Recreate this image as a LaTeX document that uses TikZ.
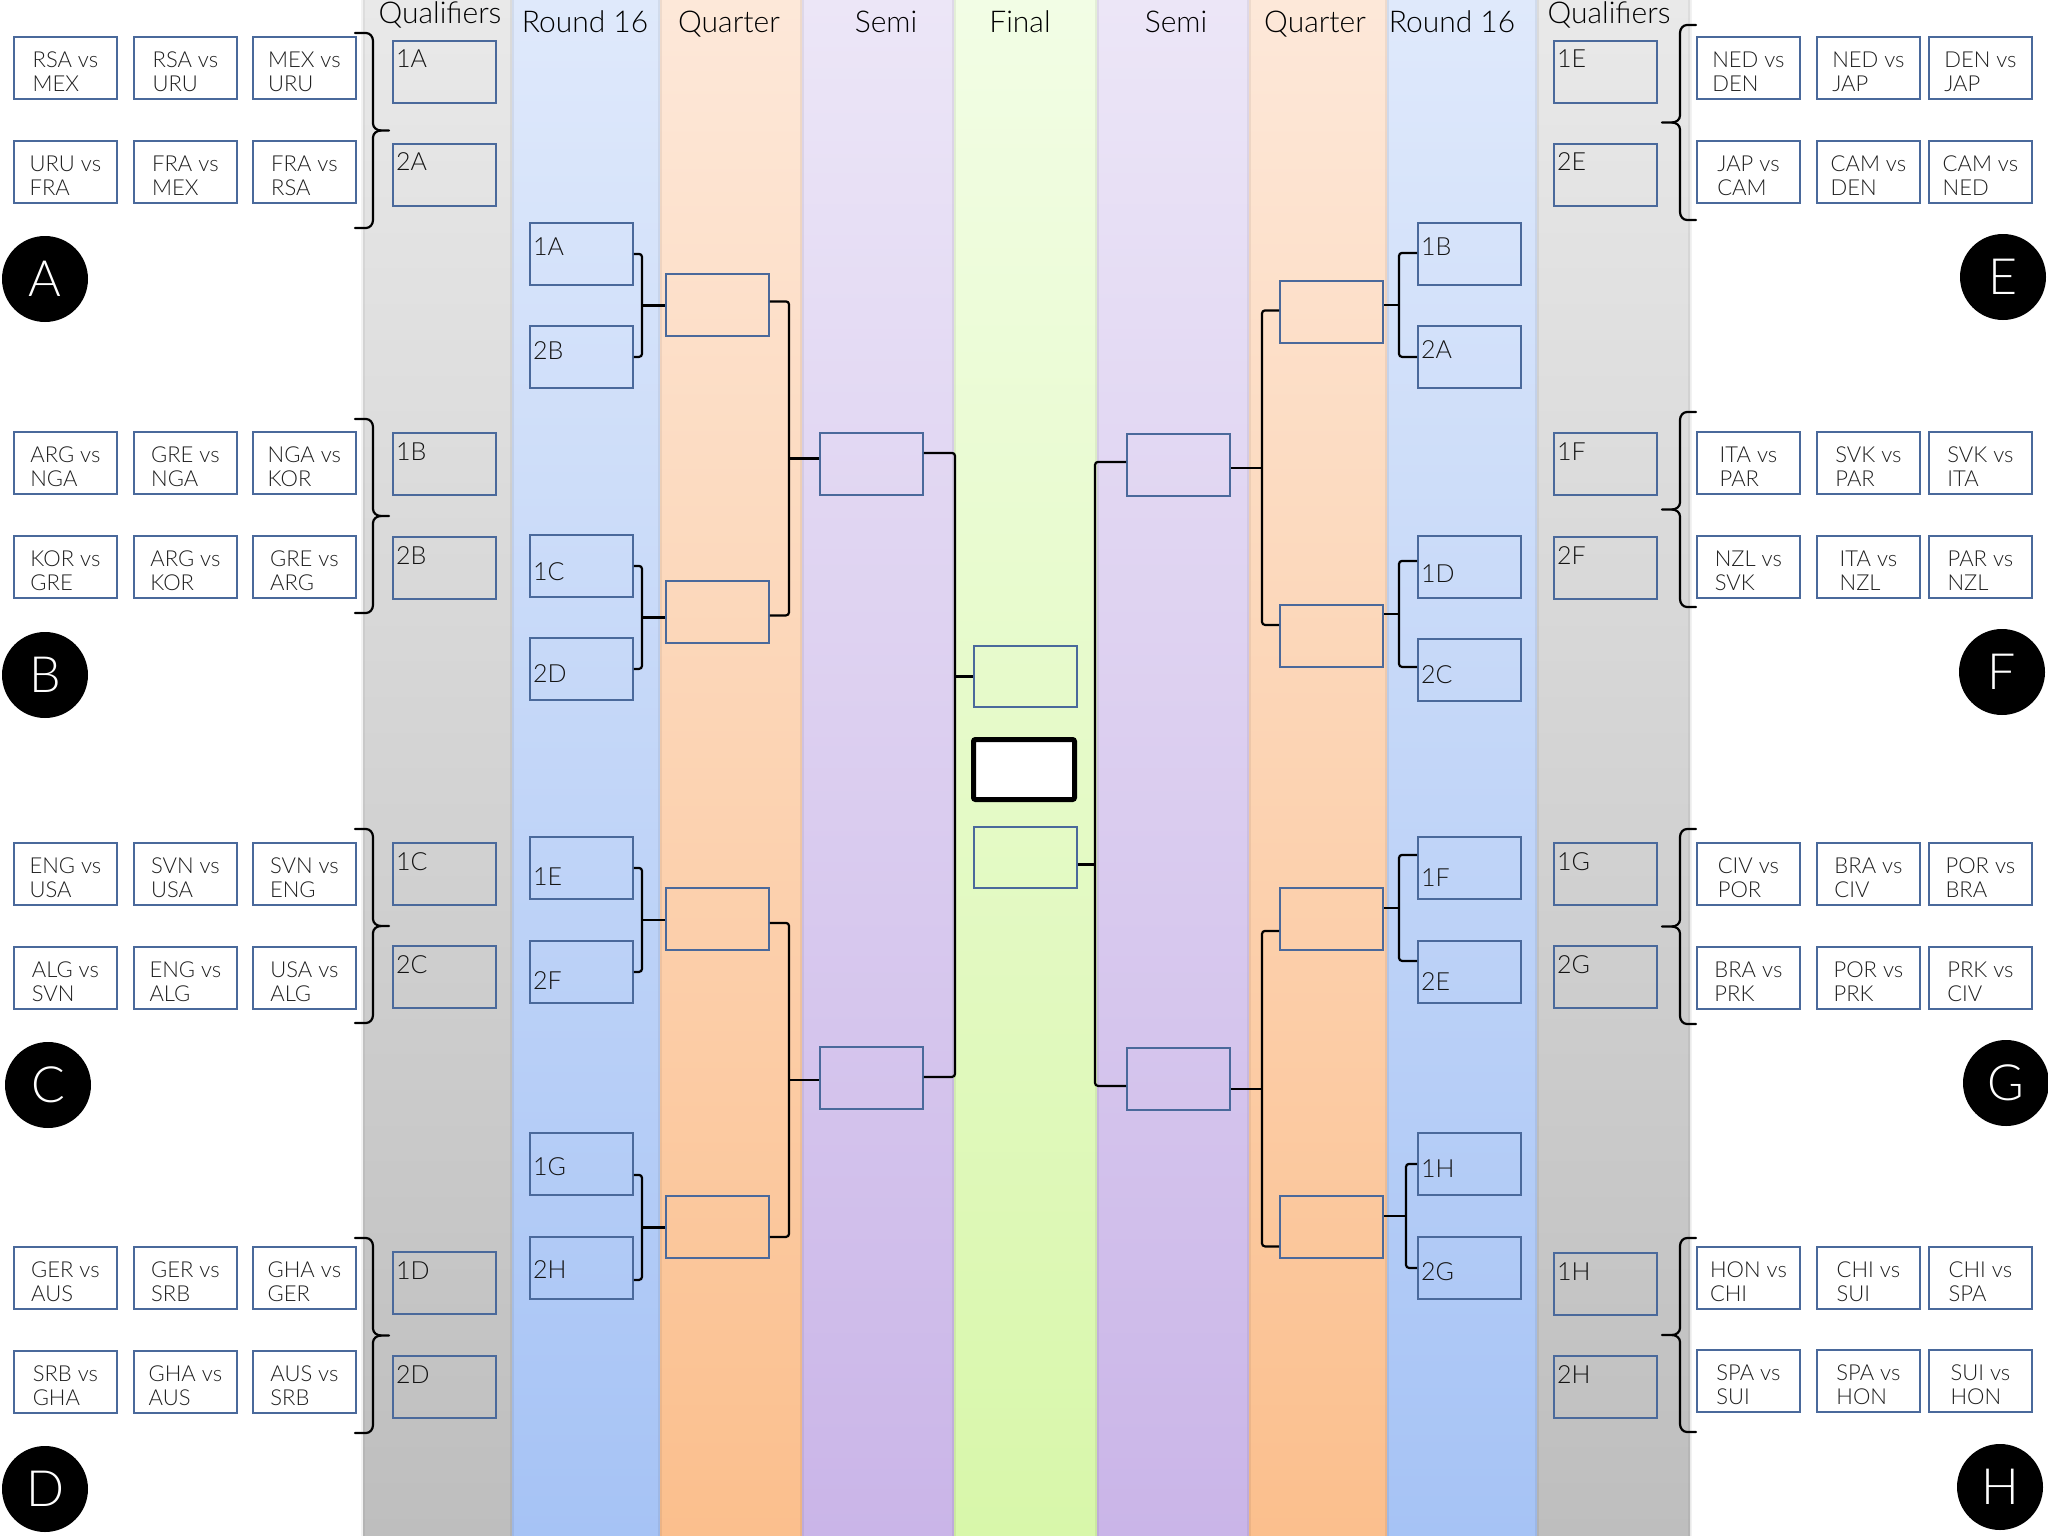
\documentclass[tikz,border=0pt]{standalone}
\usepackage{fontspec}
\setmainfont{Lato Light}
\usetikzlibrary{calc}
\definecolor{grayT}{HTML}{E9E9E9}\definecolor{grayB}{HTML}{BEBEBE}
\definecolor{blueT}{HTML}{DFE9FB}\definecolor{blueB}{HTML}{A6C3F5}
\definecolor{oraT}{HTML}{FDE8D9}\definecolor{oraB}{HTML}{FBBF8D}
\definecolor{purT}{HTML}{ECE6F7}\definecolor{purB}{HTML}{CAB5E8}
\definecolor{grnT}{HTML}{F2FDE5}\definecolor{grnB}{HTML}{D8F7AA}
\definecolor{boxc}{HTML}{4A699B}
\tikzset{
 slotbox/.style={draw=boxc, line width=1.8pt, minimum width=103pt, minimum height=62pt, inner sep=0pt, anchor=north west},
 teambox/.style={slotbox, fill=white},
 teamtxt/.style={font=\fontsize{22}{24}\selectfont, align=left, text=black!88, inner sep=0pt},
 slotlbl/.style={font=\fontsize{25}{30}\selectfont, text=black!92, inner sep=0pt, anchor=base west},
 hdr/.style={font=\fontsize{30}{36}\selectfont, text=black, inner sep=0pt, anchor=base},
 conn/.style={line width=2.2pt, rounded corners=3pt, black},
 bracestyle/.style={line width=2.2pt, black, line cap=round, line join=round},
 grpcircle/.style={circle, fill=black, minimum size=86pt, inner sep=0pt, text=white, font=\fontsize{50}{50}\selectfont},
 champ/.style={draw=black, line width=5pt, fill=white, rounded corners=2pt, minimum width=101pt, minimum height=60pt, inner sep=0pt, anchor=north west},
}
\newcommand\mkslot[5]{\node[slotbox] (#1) at (#2,#3) {};\node[slotlbl] (#1l) at ([xshift=4pt,yshift=-#5pt]#1.north west) {#4};}
\newcommand\mkteam[4]{\node[teambox] (#1) at (#2,#3) {};\node[teamtxt] (#1t) at ([yshift=-4pt]#1.center) {#4};}
\newcommand\gbraceL[2]{%
 \pgfmathsetmacro\bm{(#1+#2)/2}%
 \draw[bracestyle] (355,#1) -- (366,#1) to[out=0,in=90] (373,#1+8) -- (373,\bm-7) to[out=-90,in=180] (381,\bm) -- (389,\bm);
 \draw[bracestyle] (381,\bm) to[out=180,in=90] (373,\bm+7) -- (373,#2-8) to[out=-90,in=0] (366,#2) -- (355,#2);}
\newcommand\gbraceR[2]{%
 \pgfmathsetmacro\bm{(#1+#2)/2}%
 \draw[bracestyle] (1696,#1) -- (1687,#1) to[out=180,in=90] (1680,#1+8) -- (1680,\bm-7) to[out=-90,in=0] (1672,\bm) -- (1662,\bm);
 \draw[bracestyle] (1672,\bm) to[out=0,in=90] (1680,\bm+7) -- (1680,#2-8) to[out=-90,in=180] (1687,#2) -- (1696,#2);}
\newcommand\brkL[7]{%
 \coordinate (#7a) at ([yshift=#5pt]#1.east);
 \coordinate (#7b) at ([yshift=#6pt]#2.east);
 \coordinate (#7k) at (#4,0);
 \draw[conn] (#7a) -- (#7a -| #7k) -- (#7b -| #7k) -- (#7b);
 \coordinate (#7m) at ($(#7a -| #7k)!0.5!(#7b -| #7k)$);
 \draw[conn] (#7m) -- (#7m -| #3.west);}
\newcommand\brkR[7]{%
 \coordinate (#7a) at ([yshift=#5pt]#1.west);
 \coordinate (#7b) at ([yshift=#6pt]#2.west);
 \coordinate (#7k) at (#4,0);
 \draw[conn] (#7a) -- (#7a -| #7k) -- (#7b -| #7k) -- (#7b);
 \coordinate (#7m) at ($(#7a -| #7k)!0.5!(#7b -| #7k)$);
 \draw[conn] (#7m) -- (#7m -| #3.east);}
\begin{document}
\begin{tikzpicture}[x=1pt,y=-1pt]
\useasboundingbox (0,0) rectangle (2048,1536);
\fill[white] (0,0) rectangle (2048,1536);
% bands
\shade[top color=grayT,bottom color=grayB] (363,0) rectangle (512,1536);
\shade[top color=blueT,bottom color=blueB] (512,0) rectangle (660,1536);
\shade[top color=oraT,bottom color=oraB] (660,0) rectangle (802,1536);
\shade[top color=purT,bottom color=purB] (802,0) rectangle (954,1536);
\shade[top color=grnT,bottom color=grnB] (954,0) rectangle (1097,1536);
\shade[top color=purT,bottom color=purB] (1097,0) rectangle (1249,1536);
\shade[top color=oraT,bottom color=oraB] (1249,0) rectangle (1387,1536);
\shade[top color=blueT,bottom color=blueB] (1387,0) rectangle (1537,1536);
\shade[top color=grayT,bottom color=grayB] (1537,0) rectangle (1690,1536);
\foreach \x in {512,660,802,954,1097,1249,1387,1537}
  \fill[black,opacity=0.06] (\x-2,0) rectangle (\x+2,1536);
\fill[black,opacity=0.05] (361,0) rectangle (365,1536);
\fill[black,opacity=0.05] (1688,0) rectangle (1692,1536);
% headers
\node[hdr] (hQL) at (440,24) {Qualifiers};
\node[hdr] (hRL) at (585,33) {Round 16};
\node[hdr] (hQuL) at (729,33) {Quarter};
\node[hdr] (hSL) at (886,33) {Semi};
\node[hdr] (hF) at (1020,33) {Final};
\node[hdr] (hSR) at (1176,33) {Semi};
\node[hdr] (hQuR) at (1315,33) {Quarter};
\node[hdr] (hRR) at (1452,33) {Round 16};
\node[hdr] (hQR) at (1609,24) {Qualifiers};
% left groups
\mkteam{A1}{13}{36}{RSA vs\\MEX}\mkteam{A2}{133}{36}{RSA vs\\URU}\mkteam{A3}{252}{36}{MEX vs\\URU}
\mkteam{A4}{13}{140}{URU vs\\FRA}\mkteam{A5}{133}{140}{FRA vs\\MEX}\mkteam{A6}{252}{140}{FRA vs\\RSA}
\mkteam{B1}{13}{431}{ARG vs\\NGA}\mkteam{B2}{133}{431}{GRE vs\\NGA}\mkteam{B3}{252}{431}{NGA vs\\KOR}
\mkteam{B4}{13}{535}{KOR vs\\GRE}\mkteam{B5}{133}{535}{ARG vs\\KOR}\mkteam{B6}{252}{535}{GRE vs\\ARG}
\mkteam{C1}{13}{842}{ENG vs\\USA}\mkteam{C2}{133}{842}{SVN vs\\USA}\mkteam{C3}{252}{842}{SVN vs\\ENG}
\mkteam{C4}{13}{946}{ALG vs\\SVN}\mkteam{C5}{133}{946}{ENG vs\\ALG}\mkteam{C6}{252}{946}{USA vs\\ALG}
\mkteam{D1}{13}{1246}{GER vs\\AUS}\mkteam{D2}{133}{1246}{GER vs\\SRB}\mkteam{D3}{252}{1246}{GHA vs\\GER}
\mkteam{D4}{13}{1350}{SRB vs\\GHA}\mkteam{D5}{133}{1350}{GHA vs\\AUS}\mkteam{D6}{252}{1350}{AUS vs\\SRB}
% right groups
\mkteam{E1}{1696}{36}{NED vs\\DEN}\mkteam{E2}{1816}{36}{NED vs\\JAP}\mkteam{E3}{1928}{36}{DEN vs\\JAP}
\mkteam{E4}{1696}{140}{JAP vs\\CAM}\mkteam{E5}{1816}{140}{CAM vs\\DEN}\mkteam{E6}{1928}{140}{CAM vs\\NED}
\mkteam{F1}{1696}{431}{ITA vs\\PAR}\mkteam{F2}{1816}{431}{SVK vs\\PAR}\mkteam{F3}{1928}{431}{SVK vs\\ITA}
\mkteam{F4}{1696}{535}{NZL vs\\SVK}\mkteam{F5}{1816}{535}{ITA vs\\NZL}\mkteam{F6}{1928}{535}{PAR vs\\NZL}
\mkteam{G1}{1696}{842}{CIV vs\\POR}\mkteam{G2}{1816}{842}{BRA vs\\CIV}\mkteam{G3}{1928}{842}{POR vs\\BRA}
\mkteam{G4}{1696}{946}{BRA vs\\PRK}\mkteam{G5}{1816}{946}{POR vs\\PRK}\mkteam{G6}{1928}{946}{PRK vs\\CIV}
\mkteam{H1}{1696}{1246}{HON vs\\CHI}\mkteam{H2}{1816}{1246}{CHI vs\\SUI}\mkteam{H3}{1928}{1246}{CHI vs\\SPA}
\mkteam{H4}{1696}{1349}{SPA vs\\SUI}\mkteam{H5}{1816}{1349}{SPA vs\\HON}\mkteam{H6}{1928}{1349}{SUI vs\\HON}
% braces
\gbraceL{33}{228}\gbraceL{419}{613}\gbraceL{829}{1023}\gbraceL{1238}{1433}
\gbraceR{25}{220}\gbraceR{412}{607}\gbraceR{829}{1024}\gbraceR{1238}{1432}
% circles
\node[grpcircle] (cA) at (45,279) {A};
\node[grpcircle] (cB) at (45,675) {B};
\node[grpcircle] (cC) at (48,1085) {C};
\node[grpcircle] (cD) at (45,1489) {D};
\node[grpcircle] (cE) at (2003,277) {E};
\node[grpcircle] (cF) at (2002,672) {F};
\node[grpcircle] (cG) at (2006,1083) {G};
\node[grpcircle] (cH) at (2000,1487) {H};
% qualifier slots
\mkslot{qA1}{392}{40}{1A}{28}\mkslot{qA2}{392}{143}{2A}{28}
\mkslot{qB1}{392}{432}{1B}{28}\mkslot{qB2}{392}{536}{2B}{28}
\mkslot{qC1}{392}{842}{1C}{28}\mkslot{qC2}{392}{945}{2C}{28}
\mkslot{qD1}{392}{1251}{1D}{28}\mkslot{qD2}{392}{1355}{2D}{28}
\mkslot{qE1}{1553}{40}{1E}{28}\mkslot{qE2}{1553}{143}{2E}{28}
\mkslot{qF1}{1553}{432}{1F}{28}\mkslot{qF2}{1553}{536}{2F}{28}
\mkslot{qG1}{1553}{842}{1G}{28}\mkslot{qG2}{1553}{945}{2G}{28}
\mkslot{qH1}{1553}{1252}{1H}{28}\mkslot{qH2}{1553}{1355}{2H}{28}
% round of 16
\mkslot{rL1}{529}{222}{1A}{33}\mkslot{rL2}{529}{325}{2B}{34}
\mkslot{rL3}{529}{534}{1C}{46}\mkslot{rL4}{529}{637}{2D}{45}
\mkslot{rL5}{529}{836}{1E}{49}\mkslot{rL6}{529}{940}{2F}{49}
\mkslot{rL7}{529}{1132}{1G}{43}\mkslot{rL8}{529}{1236}{2H}{42}
\mkslot{rR1}{1417}{222}{1B}{33}\mkslot{rR2}{1417}{325}{2A}{33}
\mkslot{rR3}{1417}{535}{1D}{47}\mkslot{rR4}{1417}{638}{2C}{45}
\mkslot{rR5}{1417}{836}{1F}{50}\mkslot{rR6}{1417}{940}{2E}{50}
\mkslot{rR7}{1417}{1132}{1H}{45}\mkslot{rR8}{1417}{1236}{2G}{44}
% quarter
\node[slotbox] (kL1) at (665,273) {};\node[slotbox] (kL2) at (665,580) {};
\node[slotbox] (kL3) at (665,887) {};\node[slotbox] (kL4) at (665,1195) {};
\node[slotbox] (kR1) at (1279,280) {};\node[slotbox] (kR2) at (1279,604) {};
\node[slotbox] (kR3) at (1279,887) {};\node[slotbox] (kR4) at (1279,1195) {};
% semi
\node[slotbox] (sL1) at (819,432) {};\node[slotbox] (sL2) at (819,1046) {};
\node[slotbox] (sR1) at (1126,433) {};\node[slotbox] (sR2) at (1126,1047) {};
% final
\node[slotbox, minimum height=61pt] (fin1) at (973,645) {};
\node[champ] (champ) at (971,737) {};
\node[slotbox, minimum height=61pt] (fin2) at (973,826) {};
% connectors: round of 16 -> quarter
\brkL{rL1}{rL2}{kL1}{642}{0}{0}{b1}
\brkL{rL3}{rL4}{kL2}{642}{0}{0}{b2}
\brkL{rL5}{rL6}{kL3}{642}{0}{0}{b3}
\brkL{rL7}{rL8}{kL4}{642}{-11}{-12}{b4}
\brkR{rR1}{rR2}{kR1}{1399}{1}{0}{b5}
\brkR{rR3}{rR4}{kR2}{1399}{6}{3}{b6}
\brkR{rR5}{rR6}{kR3}{1399}{13}{11}{b7}
\brkR{rR7}{rR8}{kR4}{1406}{0}{0}{b8}
% quarter -> semi
\brkL{kL1}{kL2}{sL1}{789}{3.5}{-3.5}{c1}
\brkL{kL3}{kL4}{sL2}{789}{-4}{-10}{c2}
\brkR{kR1}{kR2}{sR1}{1262}{1.5}{11}{c3}
\brkR{kR3}{kR4}{sR2}{1262}{-12}{-19.5}{c4}
% semi -> final
\coordinate (dLa) at ([yshift=11pt]sL1.east);
\coordinate (dLb) at ([yshift=1pt]sL2.east);
\coordinate (dLk) at (955,0);
\draw[conn] (dLa) -- (dLa -| dLk) -- (dLb -| dLk) -- (dLb);
\draw[conn] (fin1.west -| dLk) -- (fin1.west);
\coordinate (dRa) at ([yshift=3pt]sR1.west);
\coordinate (dRb) at ([yshift=-7pt]sR2.west);
\coordinate (dRk) at (1095,0);
\draw[conn] (dRa) -- (dRa -| dRk) -- (dRb -| dRk) -- (dRb);
\coordinate (dRf) at ([yshift=-7pt]fin2.east);
\draw[conn] (dRf) -- (dRf -| dRk);
\end{tikzpicture}
\end{document}
